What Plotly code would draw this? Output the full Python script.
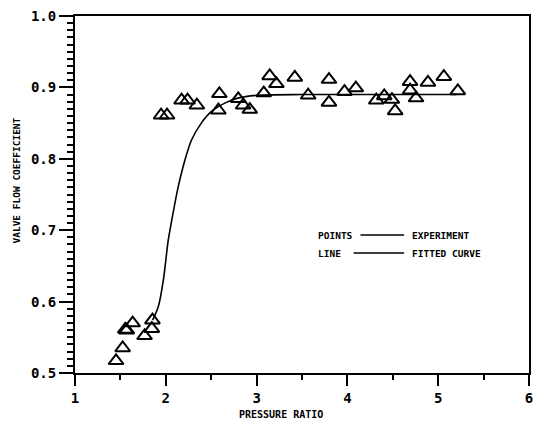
import plotly.graph_objects as go

# Experiment points (pressure ratio, valve flow coefficient)
exp_x = [1.452, 1.525, 1.554, 1.570, 1.635, 1.766, 1.846, 1.853,
         1.948, 2.014, 2.174, 2.240, 2.342, 2.579, 2.590, 2.798, 2.852, 2.925,
         3.079, 3.144, 3.218, 3.421, 3.568, 3.797, 3.797, 3.968, 4.093,
         4.318, 4.406, 4.490, 4.526, 4.690, 4.690, 4.756, 4.887, 5.062, 5.216]
exp_y = [0.517, 0.535, 0.561, 0.560, 0.570, 0.552, 0.562, 0.574,
         0.861, 0.861, 0.882, 0.882, 0.875, 0.868, 0.891, 0.884, 0.875, 0.869,
         0.892, 0.916, 0.905, 0.914, 0.889, 0.911, 0.879, 0.894, 0.899,
         0.882, 0.888, 0.883, 0.867, 0.908, 0.896, 0.885, 0.907, 0.915, 0.895]

# Fitted curve
fit_x = [1.855, 1.918, 1.973, 2.027, 2.080, 2.137, 2.210, 2.282, 2.391,
         2.500, 2.650, 2.792, 3.010, 3.500, 4.000, 4.500, 5.200]
fit_y = [0.574, 0.593, 0.630, 0.686, 0.724, 0.761, 0.798, 0.826, 0.850,
         0.866, 0.878, 0.885, 0.889, 0.890, 0.890, 0.890, 0.890]

x_ticks = [1, 2, 3, 4, 5, 6]
y_ticks = [0.5, 0.6, 0.7, 0.8, 0.9, 1.0]

FONT = "DejaVu Sans Mono"

fig = go.Figure()
fig.add_trace(go.Scatter(x=fit_x, y=fit_y, mode="lines",
                         line=dict(color="black", width=1.6, shape="spline", smoothing=0.8),
                         showlegend=False, hoverinfo="skip"))
fig.add_trace(go.Scatter(x=exp_x, y=exp_y, mode="markers",
                         marker=dict(symbol="triangle-up-open", size=13, color="black",
                                     line=dict(width=2, color="black")),
                         showlegend=False))

fig.update_layout(
    width=537, height=423,
    margin=dict(l=75, r=4, t=16, b=50),
    paper_bgcolor="white", plot_bgcolor="white",
    font=dict(family=FONT, color="black"),
    xaxis=dict(range=[1, 6], tickvals=x_ticks, ticktext=[str(v) for v in x_ticks],
               ticks="outside", ticklen=11, tickwidth=1.5, tickcolor="black",
               minor=dict(dtick=0.5, ticks="outside", ticklen=5, tickwidth=1.5, tickcolor="black"),
               showline=True, linecolor="black", linewidth=2, mirror=True,
               showgrid=False, zeroline=False,
               tickfont=dict(family=FONT, size=14, color="black", weight="bold")),
    yaxis=dict(range=[0.5, 1.0], tickvals=y_ticks, ticktext=[f"{v:.1f}" for v in y_ticks],
               ticks="outside", ticklen=14, tickwidth=1.5, tickcolor="black",
               minor=dict(dtick=0.01, ticks="outside", ticklen=6, tickwidth=1.5, tickcolor="black"),
               showline=True, linecolor="black", linewidth=2, mirror=True,
               showgrid=False, zeroline=False,
               tickfont=dict(family=FONT, size=14, color="black", weight="bold")),
)

# Axis titles
fig.add_annotation(text="PRESSURE RATIO", xref="paper", yref="paper",
                   x=(283 - 75) / 458, y=-(414 - 373) / 357, xanchor="center", yanchor="middle",
                   showarrow=False, font=dict(family=FONT, size=10, color="black", weight="bold"))
fig.add_annotation(text="VALVE FLOW COEFFICIENT", xref="paper", yref="paper",
                   x=-(75 - 15) / 458, y=(373 - 181) / 357, xanchor="center", yanchor="middle",
                   textangle=-90, showarrow=False,
                   font=dict(family=FONT, size=9.5, color="black", weight="bold"))

# Legend block
def px(xp):
    return (xp - 75) / 458

def py(yp):
    return (373 - yp) / 357

legend_rows = [("POINTS", "EXPERIMENT", 235, 363), ("LINE", "FITTED CURVE", 253, 356)]
for left, right, ypos, x0 in legend_rows:
    fig.add_annotation(text=left, xref="paper", yref="paper", x=px(318), y=py(ypos),
                       xanchor="left", yanchor="middle", showarrow=False,
                       font=dict(family=FONT, size=9.5, color="black", weight="bold"))
    fig.add_annotation(text=right, xref="paper", yref="paper", x=px(413), y=py(ypos),
                       xanchor="left", yanchor="middle", showarrow=False,
                       font=dict(family=FONT, size=9.5, color="black", weight="bold"))
    fig.add_shape(type="line", xref="paper", yref="paper", x0=px(x0), x1=px(407),
                  y0=py(ypos), y1=py(ypos), line=dict(color="black", width=1.3))

fig.write_html("out.html", config={"displayModeBar": False},
               post_script="document.body.style.margin='0';document.body.style.padding='0';")
